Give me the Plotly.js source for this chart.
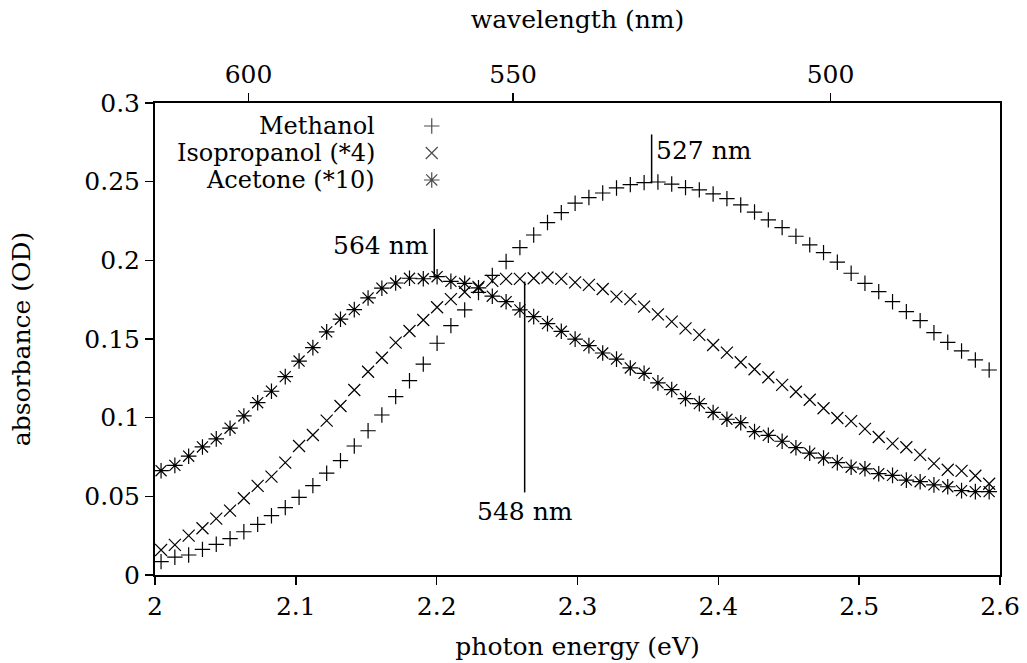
<!DOCTYPE html>
<html>
<head>
<meta charset="utf-8">
<script src="https://cdn.plot.ly/plotly-3.0.1.min.js"></script>
<style>
  html, body { margin: 0; padding: 0; background: #fff; }
  #chart { width: 1027px; height: 663px; }
</style>
</head>
<body>
<div id="chart"></div>
<script>
// Photon energy of each sample (eV)
const energy = [
  2.0043, 2.0141, 2.0239, 2.0337, 2.0435, 2.0533, 2.0631, 2.0729, 2.0827, 2.0925,
  2.1023, 2.1121, 2.1219, 2.1317, 2.1415, 2.1513, 2.1611, 2.1709, 2.1807, 2.1905,
  2.2003, 2.2101, 2.2199, 2.2297, 2.2395, 2.2493, 2.2591, 2.2689, 2.2787, 2.2885,
  2.2983, 2.3081, 2.3179, 2.3277, 2.3375, 2.3473, 2.3571, 2.3669, 2.3767, 2.3865,
  2.3963, 2.4061, 2.4159, 2.4257, 2.4355, 2.4453, 2.4551, 2.4649, 2.4747, 2.4845,
  2.4943, 2.5041, 2.5139, 2.5237, 2.5335, 2.5433, 2.5531, 2.5629, 2.5727, 2.5825,
  2.5923
];

// Absorbance (OD)
const methanol = [
  0.0085, 0.0113, 0.0127, 0.0163, 0.0195, 0.0231, 0.0275, 0.0322, 0.0377, 0.0428,
  0.0494, 0.0568, 0.0647, 0.0727, 0.0820, 0.0917, 0.1017, 0.1134, 0.1235, 0.1340,
  0.1473, 0.1585, 0.1685, 0.1796, 0.1904, 0.1993, 0.2081, 0.2161, 0.2240, 0.2303,
  0.2363, 0.2399, 0.2428, 0.2460, 0.2481, 0.2494, 0.2498, 0.2485, 0.2462, 0.2448,
  0.2422, 0.2392, 0.2352, 0.2307, 0.2257, 0.2208, 0.2153, 0.2098, 0.2049, 0.1988,
  0.1918, 0.1854, 0.1801, 0.1737, 0.1674, 0.1617, 0.1540, 0.1479, 0.1424, 0.1367,
  0.1303
];

const isopropanol = [
  0.0159, 0.0191, 0.0250, 0.0297, 0.0358, 0.0409, 0.0488, 0.0566, 0.0625, 0.0714,
  0.0820, 0.0890, 0.0981, 0.1074, 0.1176, 0.1292, 0.1381, 0.1477, 0.1551, 0.1621,
  0.1702, 0.1753, 0.1799, 0.1831, 0.1869, 0.1882, 0.1882, 0.1886, 0.1891, 0.1882,
  0.1860, 0.1844, 0.1818, 0.1769, 0.1753, 0.1706, 0.1657, 0.1610, 0.1568, 0.1526,
  0.1462, 0.1413, 0.1352, 0.1308, 0.1257, 0.1208, 0.1165, 0.1114, 0.1060, 0.0998,
  0.0978, 0.0929, 0.0877, 0.0835, 0.0812, 0.0763, 0.0708, 0.0669, 0.0662, 0.0631,
  0.0580
];

const acetone = [
  0.0663, 0.0697, 0.0755, 0.0814, 0.0865, 0.0933, 0.1011, 0.1095, 0.1168, 0.1261,
  0.1360, 0.1445, 0.1545, 0.1626, 0.1687, 0.1761, 0.1823, 0.1856, 0.1886, 0.1883,
  0.1896, 0.1866, 0.1854, 0.1825, 0.1772, 0.1737, 0.1685, 0.1642, 0.1598, 0.1549,
  0.1499, 0.1458, 0.1411, 0.1372, 0.1316, 0.1282, 0.1221, 0.1178, 0.1121, 0.1089,
  0.1033, 0.0990, 0.0968, 0.0911, 0.0888, 0.0850, 0.0809, 0.0774, 0.0744, 0.0714,
  0.0685, 0.0675, 0.0644, 0.0633, 0.0603, 0.0593, 0.0573, 0.0561, 0.0536, 0.0530,
  0.0530
];

const seriesNames = ['Methanol', 'Isopropanol (*4)', 'Acetone (*10)'];
const energyTicks = [2, 2.1, 2.2, 2.3, 2.4, 2.5, 2.6];
const energyTickText = ['2', '2.1', '2.2', '2.3', '2.4', '2.5', '2.6'];
const absTicks = [0, 0.05, 0.1, 0.15, 0.2, 0.25, 0.3];
const absTickText = ['0', '0.05', '0.1', '0.15', '0.2', '0.25', '0.3'];
const wavelengthTicks = [600, 550, 500];

// Peak markers: wavelength (nm) and the vertical extent of each marker line (OD)
const peakNm = [527, 564, 548];
const peakLineLow = [0.249, 0.189, 0.0525];
const peakLineHigh = [0.280, 0.220, 0.1865];

const HC = 1239.84; // eV·nm
const toEV = nm => HC / nm;

const FONT = 'DejaVu Serif, Liberation Serif, serif';
const FS = 25;
const symbols = ['cross-thin-open', 'x-thin-open', 'asterisk-open'];
const sizes = [11, 12, 13];
const seriesData = [methanol, isopropanol, acetone];

const traces = seriesData.map((ys, k) => ({
  type: 'scatter', mode: 'markers',
  x: energy, y: ys, name: seriesNames[k],
  marker: { symbol: symbols[k], size: sizes[k], color: '#000', line: { width: 1.2, color: '#000' } },
  showlegend: false, hoverinfo: 'x+y'
}));

// Key samples, placed in plot-area fractions on an overlay axis pair
const keyX = 0.3275;
const keyY = [0.9513, 0.894, 0.8369];
traces.push({
  type: 'scatter', mode: 'markers',
  x: keyY.map(() => keyX), y: keyY,
  xaxis: 'x3', yaxis: 'y3',
  marker: { symbol: symbols, size: sizes, color: '#000', line: { width: 1.2, color: '#000' } },
  showlegend: false, hoverinfo: 'skip'
});
// carrier for the wavelength axis
traces.push({ type: 'scatter', mode: 'markers', x: [], y: [], xaxis: 'x2', yaxis: 'y', showlegend: false, hoverinfo: 'skip' });

const shapes = peakNm.map((nm, k) => ({
  type: 'line', xref: 'x', yref: 'y',
  x0: toEV(nm), x1: toEV(nm), y0: peakLineLow[k], y1: peakLineHigh[k],
  line: { color: '#000', width: 1.5 }
}));

const annotations = [
  { x: toEV(peakNm[0]), y: 0.270, xref: 'x', yref: 'y', text: peakNm[0] + ' nm', showarrow: false, xanchor: 'left', yanchor: 'middle', xshift: 2 },
  { x: toEV(peakNm[1]), y: 0.2095, xref: 'x', yref: 'y', text: peakNm[1] + ' nm', showarrow: false, xanchor: 'right', yanchor: 'middle', xshift: -3 },
  { x: toEV(peakNm[2]), y: peakLineLow[2], xref: 'x', yref: 'y', text: peakNm[2] + ' nm', showarrow: false, xanchor: 'center', yanchor: 'top', yshift: -3 }
].concat(seriesNames.map((name, k) => ({
  x: 0.2627, y: keyY[k], xref: 'paper', yref: 'paper', text: name,
  showarrow: false, xanchor: 'right', yanchor: 'middle',
  font: { family: FONT, size: 24, color: '#000' }
})));

const layout = {
  width: 1027, height: 663,
  margin: { l: 155, r: 27, t: 103, b: 88 },
  paper_bgcolor: '#fff', plot_bgcolor: '#fff',
  font: { family: FONT, size: FS, color: '#000' },
  showlegend: false,
  xaxis: {
    range: [2, 2.6], tickmode: 'array', tickvals: energyTicks, ticktext: energyTickText,
    ticks: 'outside', ticklen: 8, tickwidth: 1.5, tickcolor: '#000',
    showline: true, linecolor: '#000', linewidth: 2, mirror: false,
    showgrid: false, zeroline: false,
    title: { text: 'photon energy (eV)', font: { family: FONT, size: FS, color: '#000' }, standoff: 17 }
  },
  xaxis2: {
    overlaying: 'x', side: 'top', range: [2, 2.6],
    tickmode: 'array', tickvals: wavelengthTicks.map(toEV), ticktext: wavelengthTicks.map(String),
    ticks: 'outside', ticklen: 8, tickwidth: 1.5, tickcolor: '#000',
    showline: true, linecolor: '#000', linewidth: 2,
    showgrid: false, zeroline: false,
    title: { text: 'wavelength (nm)', font: { family: FONT, size: FS, color: '#000' }, standoff: 24 }
  },
  yaxis: {
    range: [0, 0.3], tickmode: 'array', tickvals: absTicks, ticktext: absTickText,
    ticks: 'outside', ticklen: 8, tickwidth: 1.5, tickcolor: '#000',
    showline: true, linecolor: '#000', linewidth: 2, mirror: true,
    showgrid: false, zeroline: false,
    title: { text: 'absorbance (OD)', font: { family: FONT, size: FS, color: '#000' }, standoff: 47 }
  },
  xaxis3: { overlaying: 'x', range: [0, 1], visible: false, fixedrange: true },
  yaxis3: { overlaying: 'y', range: [0, 1], visible: false, fixedrange: true },
  shapes: shapes,
  annotations: annotations
};

Plotly.newPlot('chart', traces, layout, { displayModeBar: false, staticPlot: true });
</script>
</body>
</html>
